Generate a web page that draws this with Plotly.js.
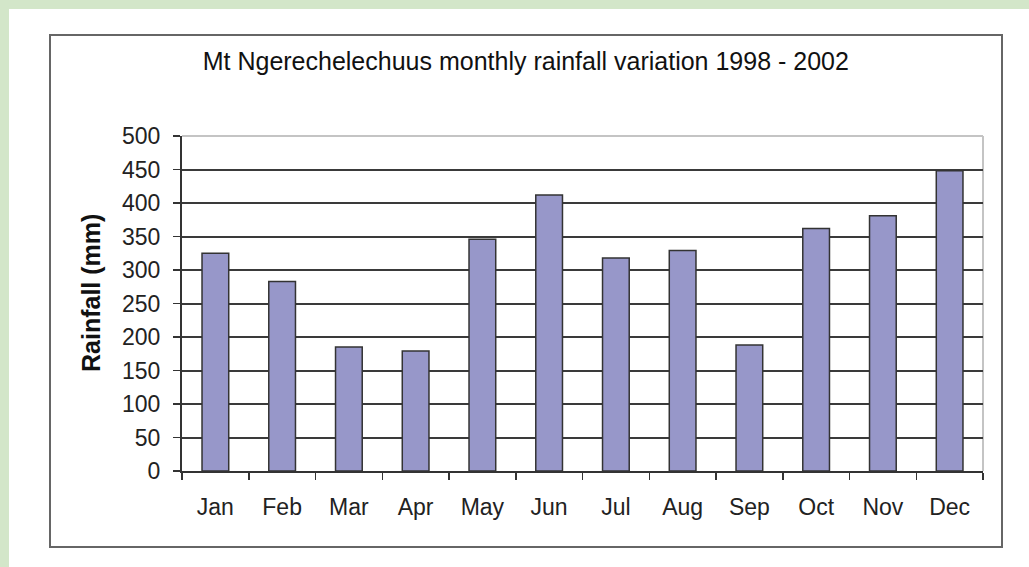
<!DOCTYPE html>
<html>
<head>
<meta charset="utf-8">
<script src="https://cdn.plot.ly/plotly-3.0.1.min.js"></script>
<style>
  html, body { margin:0; padding:0; width:1029px; height:567px; overflow:hidden; background:#d3e6c9; }
  #panel { position:absolute; left:9px; top:9px; width:1020px; height:558px; background:#ffffff; }
  #frame { position:absolute; left:49px; top:34px; width:950px; height:510px; border:2px solid #666666; box-sizing:content-box; }
  #chart { position:absolute; left:0; top:0; width:1029px; height:567px; }
</style>
</head>
<body>
<div id="panel"></div>
<div id="frame"></div>
<div id="chart"></div>
<script>
const months = ["Jan","Feb","Mar","Apr","May","Jun","Jul","Aug","Sep","Oct","Nov","Dec"];
const rainfall = [325, 283, 185, 179, 346, 412, 318, 329, 188, 362, 381, 448];
const yTicks = [0,50,100,150,200,250,300,350,400,450,500];

const trace = {
  type: 'bar',
  x: months,
  y: rainfall,
  marker: { color: '#9797c9', line: { color: '#333333', width: 1.5 } },
  hoverinfo: 'x+y'
};

const plotL = 182, plotR = 983, plotT = 136, plotB = 471;

const layout = {
  width: 1029, height: 567,
  paper_bgcolor: 'rgba(0,0,0,0)',
  plot_bgcolor: '#ffffff',
  margin: { l: plotL, r: 1029 - plotR, t: plotT, b: 567 - plotB, pad: 0 },
  bargap: 0.6,
  showlegend: false,
  title: {
    text: 'Mt Ngerechelechuus monthly rainfall variation 1998 - 2002',
    font: { family: '"Liberation Sans", Arial, sans-serif', size: 25, color: '#111111' },
    xref: 'container', x: 0.511, xanchor: 'center',
    yref: 'container', y: 1 - 61/567, yanchor: 'middle'
  },
  xaxis: {
    type: 'category',
    tickson: 'boundaries',
    ticks: 'outside', ticklen: 7, tickwidth: 1.5, tickcolor: '#333333',
    showline: true, linecolor: '#333333', linewidth: 2,
    showgrid: false,
    tickfont: { family: '"Liberation Sans", Arial, sans-serif', size: 23, color: '#222222' },
    ticklabelstandoff: 14
  },
  yaxis: {
    range: [0, 500],
    tickvals: yTicks,
    ticktext: yTicks.map(String),
    ticks: 'outside', ticklen: 7, tickwidth: 1.5, tickcolor: '#333333',
    showline: true, linecolor: '#333333', linewidth: 2,
    showgrid: true, gridcolor: '#3a3a3a', gridwidth: 2,
    zeroline: false,
    tickfont: { family: '"Liberation Sans", Arial, sans-serif', size: 23, color: '#222222' },
    ticklabelstandoff: 8
  },
  annotations: [
    {
      text: '<b>Rainfall (mm)</b>',
      font: { family: '"Liberation Sans", Arial, sans-serif', size: 25, color: '#111111' },
      textangle: -90,
      xref: 'paper', yref: 'paper',
      x: (91 - plotL) / (plotR - plotL), y: (plotB - 293) / (plotB - plotT),
      xanchor: 'center', yanchor: 'middle',
      showarrow: false
    }
  ],
  shapes: [
    { type: 'line', xref: 'paper', yref: 'paper', x0: 0, x1: 1, y0: 1, y1: 1, line: { color: '#c4c4c4', width: 2 }, layer: 'above' },
    { type: 'line', xref: 'paper', yref: 'paper', x0: 1, x1: 1, y0: 0, y1: 1, line: { color: '#c4c4c4', width: 2 }, layer: 'below' }
  ]
};

Plotly.newPlot('chart', [trace], layout, { displayModeBar: false, staticPlot: true });
</script>
</body>
</html>
